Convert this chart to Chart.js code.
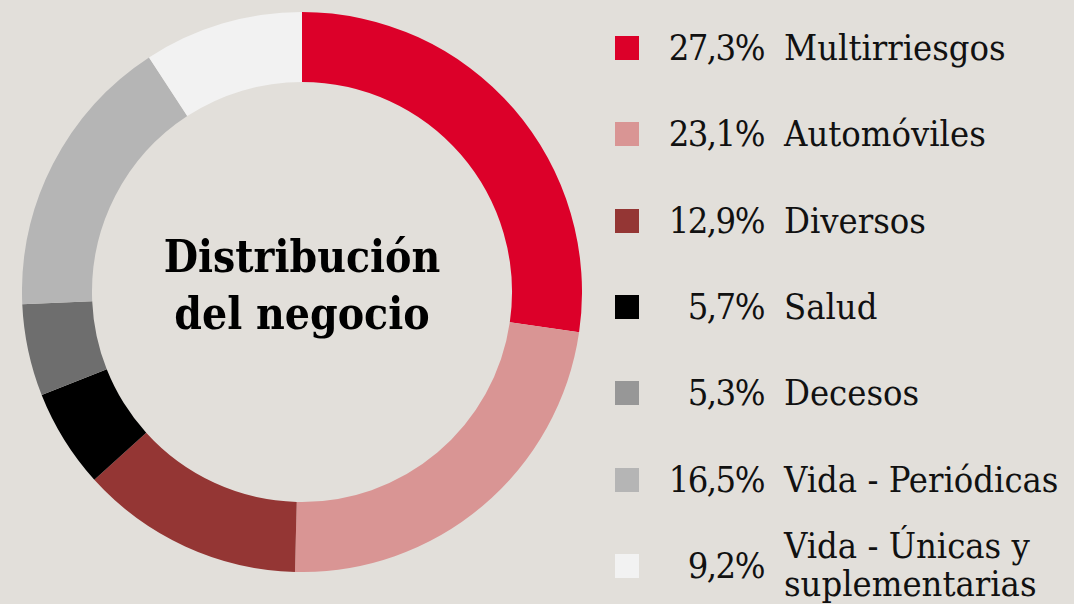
<!DOCTYPE html>
<html>
<head>
<meta charset="utf-8">
<script src="https://cdn.jsdelivr.net/npm/chart.js@4.4.1/dist/chart.umd.min.js"></script>
<style>
  html, body { margin: 0; padding: 0; }
  body {
    width: 1074px; height: 604px; overflow: hidden;
    background: #e2dfda; position: relative;
    font-family: "DejaVu Serif Condensed", "DejaVu Serif", serif;
    font-stretch: condensed;
    color: #111;
  }
  #chartBox { position: absolute; left: 22px; top: 12px; width: 560px; height: 560px; }
  #center {
    position: absolute; left: 102px; top: 228px; width: 400px;
    text-align: center; font-weight: bold; font-size: 44px; line-height: 57px;
    color: #000;
  }
  #legend { position: absolute; left: 615px; top: 0; width: 460px; }
  .row { position: absolute; left: 0; height: 80px; width: 460px; }
  .sw { position: absolute; left: 0; width: 24px; height: 24px; }
  .pct { position: absolute; right: 311px; font-size: 36px; line-height: 40px; white-space: nowrap; letter-spacing: -1.5px; }
  .lab { position: absolute; left: 169px; font-size: 36px; line-height: 40px; white-space: nowrap; }
</style>
</head>
<body>
<div id="chartBox"><canvas id="pie"></canvas></div>
<div id="center">Distribución<br>del negocio</div>
<div id="legend"></div>
<script>
const categories = ['Multirriesgos', 'Automóviles', 'Diversos', 'Salud', 'Decesos', 'Vida - Periódicas', 'Vida - Únicas y\nsuplementarias'];
const shares = [27.3, 23.1, 12.9, 5.7, 5.3, 16.5, 9.2];
const shareLabels = ['27,3%', '23,1%', '12,9%', '5,7%', '5,3%', '16,5%', '9,2%'];
const sliceColors = ['#dc0029', '#d99594', '#943634', '#000000', '#6e6e6e', '#b5b5b5', '#f2f2f2'];
const swatchColors = ['#dc0029', '#d99594', '#943634', '#000000', '#979797', '#b5b5b5', '#f2f2f2'];

const legend = document.getElementById('legend');
categories.forEach((name, i) => {
    const cy = 48 + i * 86.3;
    const row = document.createElement('div');
    row.className = 'row';
    row.style.top = Math.round(cy - 40) + 'px';
    const lines = name.split('\n');

    const sw = document.createElement('div');
    sw.className = 'sw';
    sw.style.top = '28px';
    sw.style.background = swatchColors[i];
    row.appendChild(sw);

    const pct = document.createElement('div');
    pct.className = 'pct';
    pct.style.top = '20px';
    pct.textContent = shareLabels[i];
    row.appendChild(pct);

    const lab = document.createElement('div');
    lab.className = 'lab';
    lab.style.top = (20 - (lines.length - 1) * 19) + 'px';
    lab.style.lineHeight = lines.length > 1 ? '38px' : '40px';
    lab.innerHTML = lines.join('<br>');
    row.appendChild(lab);

    legend.appendChild(row);
});

const ctx = document.getElementById('pie').getContext('2d');
const pieChart = new Chart(ctx, {
    type: 'doughnut',
    data: {
        labels: categories,
        datasets: [{
            data: shares,
            backgroundColor: sliceColors,
            borderWidth: 0
        }]
    },
    options: {
        responsive: true,
        maintainAspectRatio: false,
        animation: false,
        cutout: '75%',
        layout: { padding: 0 },
        plugins: {
            legend: { display: false },
            tooltip: { enabled: false }
        }
    }
});
</script>
</body>
</html>
